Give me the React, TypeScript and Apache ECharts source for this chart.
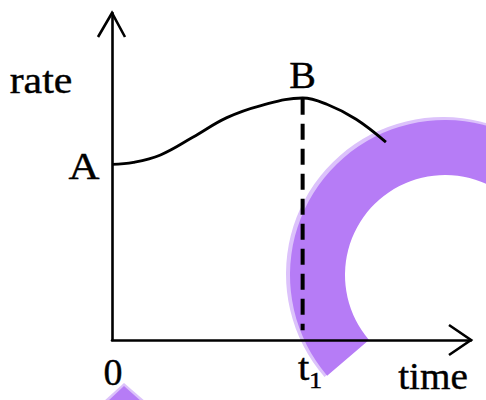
import React, { useEffect, useRef } from "react";
import * as echarts from "echarts";

// axis ranges (arbitrary units)
const xMax = 10;
const yMax = 10;

// the rate curve
const curveX = [0, 0.6, 1.35, 2.25, 3.2, 4.15, 5.31, 6.0, 6.8, 7.63];
const curveY = [5.37, 5.43, 5.66, 6.2, 6.8, 7.17, 7.4, 7.2, 6.75, 6.05];

// the t1 dashed drop line
const t1 = 5.31;
const dashX = [t1, t1];
const dashY = [7.38, 0.3];

// texts
const yName = "rate";
const xName = "time";
const originLabel = "0";
const t1Main = "t";
const t1Sub = "1";
const pointA = "A";
const pointB = "B";

const PURPLE = "#b67cf6";
const PURPLE_LIGHT = "#dcc2fb";
const FONT = "'Liberation Serif', 'Times New Roman', serif";

export default function App() {
  const ref = useRef<HTMLDivElement | null>(null);

  useEffect(() => {
    if (!ref.current) return;
    const chart = echarts.init(ref.current, null, { renderer: "svg" });
    const axisCommon = {
      type: "value" as const,
      min: 0,
      z: 6,
      axisLine: { show: true, onZero: false, lineStyle: { color: "#000", width: 2.6 } },
      axisTick: { show: false },
      axisLabel: { show: false },
      splitLine: { show: false },
    };
    chart.setOption({
      animation: false,
      backgroundColor: "#fff",
      grid: { left: 112, right: 15, top: 13, bottom: 60 },
      xAxis: { ...axisCommon, max: xMax },
      yAxis: { ...axisCommon, max: yMax },
      series: [
        {
          type: "line",
          data: curveX.map((x, i) => [x, curveY[i]]),
          smooth: 0.4,
          showSymbol: false,
          lineStyle: { color: "#000", width: 2.8 },
          z: 5,
        },
        {
          type: "line",
          data: dashX.map((x, i) => [x, dashY[i]]),
          showSymbol: false,
          lineStyle: { color: "#000", width: 4, type: [16, 9] },
          z: 5,
        },
      ],
    });

    const p = (x: number, y: number) =>
      chart.convertToPixel({ gridIndex: 0 }, [x, y]) as number[];
    const o = p(0, 0);
    const yTop = p(0, yMax);
    const xEnd = p(xMax, 0);
    const peakIdx = curveY.indexOf(Math.max(...curveY));
    const A = p(curveX[0], curveY[0]);
    const B = p(curveX[peakIdx], curveY[peakIdx]);
    const T = p(t1, 0);

    const txt = (text: string, x: number, y: number, size = 37, sx = 1.1) => ({
      type: "text",
      x,
      y,
      scaleX: sx,
      z: 10,
      style: {
        text,
        fontFamily: FONT,
        fontSize: size,
        fill: "#000",
        stroke: "#000",
        lineWidth: 0.4,
        align: "center",
        verticalAlign: "middle",
      },
    });

    chart.setOption({
      graphic: [
        // watermark (behind the drawing)
        {
          type: "sector",
          z: 0,
          shape: {
            cx: 443,
            cy: 274,
            r0: 101,
            r: 157,
            startAngle: (139 * Math.PI) / 180,
            endAngle: 2 * Math.PI,
            clockwise: true,
          },
          style: { fill: PURPLE_LIGHT },
        },
        {
          type: "sector",
          z: 1,
          shape: {
            cx: 445,
            cy: 275,
            r0: 100,
            r: 155,
            startAngle: (139.5 * Math.PI) / 180,
            endAngle: 2 * Math.PI,
            clockwise: true,
          },
          style: { fill: PURPLE },
        },
        {
          type: "polygon",
          z: 0,
          shape: { points: [[103, 402], [124, 383], [146, 402]] },
          style: { fill: PURPLE_LIGHT },
        },
        {
          type: "polygon",
          z: 1,
          shape: { points: [[107, 402], [124, 386], [142, 402]] },
          style: { fill: PURPLE },
        },
        // axis arrows
        {
          type: "polyline",
          z: 10,
          shape: {
            points: [
              [yTop[0] - 14, yTop[1] + 24],
              [yTop[0], yTop[1]],
              [yTop[0] + 13, yTop[1] + 24],
            ],
          },
          style: { stroke: "#000", lineWidth: 2.6, fill: null },
        },
        {
          type: "polyline",
          z: 10,
          shape: {
            points: [
              [xEnd[0] - 22, xEnd[1] - 15],
              [xEnd[0], xEnd[1]],
              [xEnd[0] - 22, xEnd[1] + 15],
            ],
          },
          style: { stroke: "#000", lineWidth: 2.6, fill: null },
        },
        txt(yName, 41, 80.5, 37, 1.13),
        txt(pointB, B[0], B[1] - 22.5, 37, 1.08),
        txt(pointA, A[0] - 28, A[1] + 2.5, 37, 1.16),
        txt(originLabel, o[0] + 1, o[1] + 31.5, 38, 1.0),
        txt(t1Main, T[0] + 1, T[1] + 27.5, 37, 1.1),
        txt(t1Sub, T[0] + 13, T[1] + 40, 24, 1.1),
        txt(xName, 433, 376.5, 37, 1.06),
      ],
    });

    return () => chart.dispose();
  }, []);

  return (
    <div
      ref={ref}
      style={{ position: "fixed", left: 0, top: 0, width: 486, height: 400, background: "#fff" }}
    />
  );
}
